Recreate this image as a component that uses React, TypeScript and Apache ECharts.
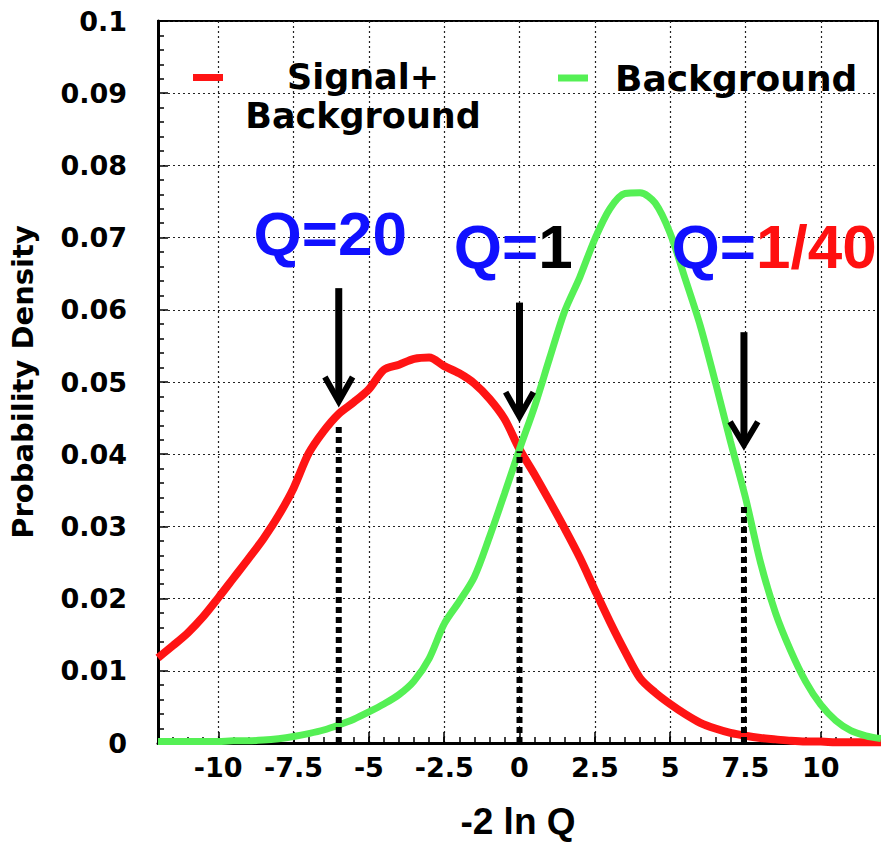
import React, { useEffect, useRef } from "react";
import * as echarts from "echarts";

const xValues = [
  -12, -11.5, -11, -10.5, -10, -9.5, -9, -8.5, -8, -7.5, -7, -6.5, -6, -5.5, -5, -4.5, -4, -3.5, -3, -2.5, -2, -1.5, -1, -0.5,
  0, 0.5, 1, 1.5, 2, 2.5, 3, 3.5, 4, 4.5, 5, 5.5, 6, 6.5, 7, 7.5, 8, 8.5, 9, 9.5, 10, 10.5, 11, 11.5, 12,
];
const signalBg = [
  0.0118, 0.0135, 0.0153, 0.0175, 0.0201, 0.0228, 0.0255, 0.0283, 0.0315, 0.0353, 0.0401, 0.0432, 0.0456, 0.0472, 0.049,
  0.0517, 0.0524, 0.0532, 0.0534, 0.0522, 0.0512, 0.0498, 0.0477, 0.0449, 0.0407, 0.0372, 0.0335, 0.0297, 0.0257, 0.0212,
  0.0168, 0.0127, 0.009, 0.007, 0.0054, 0.004, 0.0028, 0.002, 0.0014, 0.001, 0.0007, 0.0005, 0.0003, 0.0002, 0.0002,
  0.0001, 0.0001, 0.0001, 0.0001,
];
const background = [
  0.0002, 0.0002, 0.0002, 0.0002, 0.0002, 0.0003, 0.0003, 0.0004, 0.0006, 0.0009, 0.0013, 0.0018, 0.0025, 0.0033, 0.0043,
  0.0054, 0.0067, 0.0086, 0.0117, 0.0165, 0.0196, 0.023, 0.0285, 0.0345, 0.0407, 0.0466, 0.0533, 0.0598, 0.0645, 0.0698,
  0.074, 0.0761, 0.0762, 0.0748, 0.0706, 0.0643, 0.0578, 0.05, 0.0418, 0.034, 0.025, 0.018, 0.0128, 0.0085, 0.0053,
  0.0031, 0.0017, 0.001, 0.0006,
];
const xMajorTicks = [-10, -7.5, -5, -2.5, 0, 2.5, 5, 7.5, 10];

// Q markers: arrows and dotted drop lines
const markerX = [-6, 0, 7.45];
const dropTop = [0.0443, 0.0404, 0.0332];
const arrowTop = [0.063, 0.061, 0.0569];
const arrowTip = [0.0473, 0.0452, 0.0413];
const arrowWing = [0.0507, 0.0486, 0.0445];
const arrowHalfWidth = 0.46;

// annotation labels
const annX = [-6.28, -0.21, 8.45];
const annY = [0.0706, 0.0687, 0.0687];
const annText = ["{b|Q=20}", "{b|Q=}{k|1}", "{b|Q=}{r|1/40}"];

const DV = "'DejaVu Sans', sans-serif";
const LS = "'Liberation Sans', Arial, sans-serif";

export default function App() {
  const ref = useRef<HTMLDivElement>(null);
  useEffect(() => {
    if (!ref.current) return;
    const chart = echarts.init(ref.current, null, { renderer: "svg" });

    const dropSeries = markerX.map((x, i) => ({
      type: "line",
      name: "drop" + i,
      data: [
        [x, 0],
        [x, dropTop[i]],
      ],
      symbol: "none",
      silent: true,
      z: 5,
      lineStyle: { color: "#000", width: 6, type: [6, 4], cap: "butt" },
    }));
    const shaftSeries = markerX.map((x, i) => ({
      type: "line",
      name: "shaft" + i,
      data: [
        [x, arrowTop[i]],
        [x, arrowTip[i] + 0.0004],
      ],
      symbol: "none",
      silent: true,
      z: 6,
      lineStyle: { color: "#000", width: 7, cap: "butt" },
    }));
    const headSeries = markerX.map((x, i) => ({
      type: "line",
      name: "head" + i,
      data: [
        [x - arrowHalfWidth, arrowWing[i]],
        [x, arrowTip[i]],
        [x + arrowHalfWidth, arrowWing[i]],
      ],
      symbol: "none",
      silent: true,
      z: 6,
      lineStyle: { color: "#000", width: 6, cap: "butt", join: "miter" },
    }));

    const tickFmt = (v: number) => {
      const r = Math.round(v * 100) / 100;
      return Math.abs(r / 2.5 - Math.round(r / 2.5)) < 1e-6 && r > -11 && r < 11 ? String(r) : "";
    };

    chart.setOption({
      animation: false,
      backgroundColor: "#ffffff",
      grid: { left: 151, top: 21, width: 727, height: 728, show: true, borderColor: "#000", borderWidth: 2, containLabel: false },
      legend: [
        {
          data: ["Signal+Background"],
          left: 188,
          top: 52,
          itemWidth: 30,
          itemHeight: 78,
          icon: "path://M0,17h30v7h-30z M0,0h0.01v0.01h-0.01z M0,78h0.01v0.01h-0.01z",
          selectedMode: false,
          formatter: () => "{t|Signal+}\n{t|Background}",
          textStyle: {
            rich: {
              t: { fontFamily: DV, fontWeight: "bold", fontSize: 35, lineHeight: 39, width: 270, align: "center", color: "#000" },
            },
          },
        },
        {
          data: ["Background"],
          left: 553,
          top: 55,
          itemWidth: 30,
          itemHeight: 7,
          icon: "rect",
          selectedMode: false,
          formatter: () => "{t|Background}",
          textStyle: {
            rich: {
              t: { fontFamily: DV, fontWeight: "bold", fontSize: 36, lineHeight: 36, padding: [0, 0, 0, 22], color: "#000" },
            },
          },
        },
      ],
      xAxis: [
        {
          type: "value",
          min: -12,
          max: 11.9,
          interval: 0.5,
          position: "bottom",
          name: "-2 ln Q",
          nameLocation: "middle",
          nameGap: 60,
          nameTextStyle: { fontFamily: LS, fontWeight: "bold", fontSize: 37, color: "#000" },
          axisLine: { show: true, onZero: false, lineStyle: { color: "#000", width: 3 } },
          axisTick: { show: true, inside: true, length: 6, lineStyle: { color: "#000", width: 1.5 } },
          axisLabel: {
            formatter: tickFmt,
            margin: 11,
            fontFamily: DV,
            fontWeight: "bold",
            fontSize: 27,
            color: "#000",
          },
          splitLine: { show: false },
        },
        {
          type: "value",
          min: -12,
          max: 11.9,
          position: "bottom",
          axisLine: { show: false, onZero: false },
          axisTick: { show: true, inside: true, length: 11, customValues: xMajorTicks, lineStyle: { color: "#000", width: 1.5 } },
          axisLabel: { show: false, customValues: xMajorTicks },
          splitLine: { show: true, lineStyle: { color: "#222", width: 1.2, type: [2, 3] } },
        },
      ],
      yAxis: {
        type: "value",
        min: 0,
        max: 0.1,
        interval: 0.01,
        position: "left",
        name: "Probability Density",
        nameLocation: "middle",
        nameGap: 121,
        nameRotate: 90,
        nameTextStyle: { fontFamily: DV, fontWeight: "bold", fontSize: 29, color: "#000" },
        axisLine: { show: true, onZero: false, lineStyle: { color: "#000", width: 3 } },
        axisTick: { show: true, inside: true, length: 10, lineStyle: { color: "#000", width: 1.5 } },
        minorTick: { show: true, splitNumber: 5, length: 6, lineStyle: { color: "#000", width: 1.5 } },
        axisLabel: {
          formatter: (v: number) => String(parseFloat(v.toFixed(3))),
          margin: 31,
          fontFamily: DV,
          fontWeight: "bold",
          fontSize: 27,
          color: "#000",
        },
        splitLine: { show: true, lineStyle: { color: "#222", width: 1.2, type: [2, 3] } },
      },
      series: [
        {
          type: "line",
          name: "Signal+Background",
          data: xValues.map((x, i) => [x, signalBg[i]]),
          symbol: "none",
          smooth: 0.3,
          z: 3,
          itemStyle: { color: "#ff1414" },
          lineStyle: { color: "#ff1414", width: 8 },
        },
        {
          type: "line",
          name: "Background",
          data: xValues.map((x, i) => [x, background[i]]),
          symbol: "none",
          smooth: 0.3,
          z: 3,
          itemStyle: { color: "#55f055" },
          lineStyle: { color: "#55f055", width: 7 },
        },
        ...dropSeries,
        ...shaftSeries,
        ...headSeries,
        {
          type: "scatter",
          name: "annotations",
          data: annX.map((x, i) => [x, annY[i]]),
          symbolSize: 1,
          itemStyle: { color: "rgba(0,0,0,0)", opacity: 1 },
          silent: true,
          clip: false,
          z: 8,
          label: {
            show: true,
            position: "inside",
            opacity: 1,
            formatter: (p: any) => annText[p.dataIndex],
            rich: {
              b: { fontFamily: LS, fontWeight: "bold", fontSize: 62, color: "#1010ff" },
              k: { fontFamily: LS, fontWeight: "bold", fontSize: 62, color: "#000" },
              r: { fontFamily: LS, fontWeight: "bold", fontSize: 62, color: "#ff1010" },
            },
          },
        },
      ],
    });
    return () => chart.dispose();
  }, []);
  return (
    <div
      ref={ref}
      style={{ position: "fixed", left: 0, top: 0, width: 881, height: 845, background: "#fff" }}
    />
  );
}
